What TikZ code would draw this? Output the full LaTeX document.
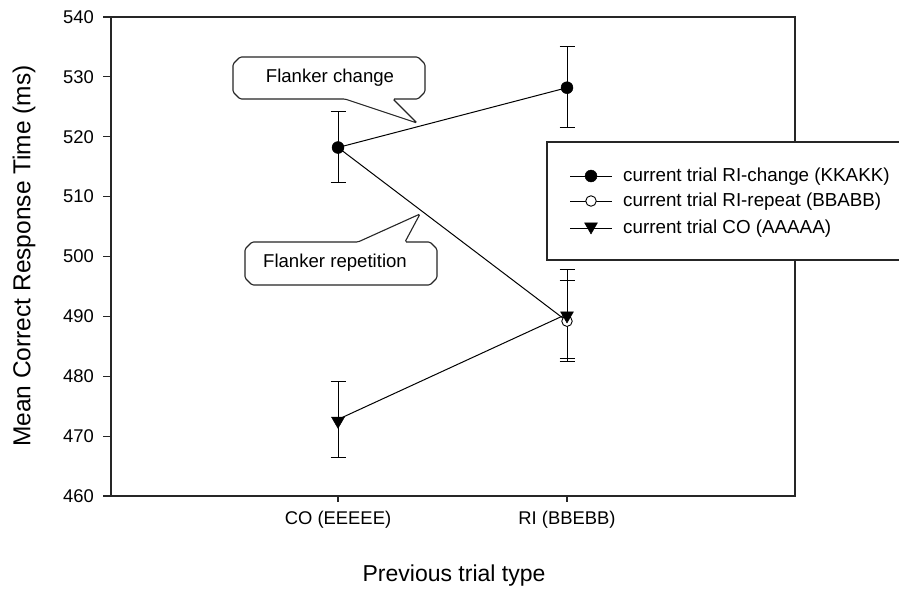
\documentclass[tikz,border=0pt]{standalone}
\usepackage{fontspec}
\setmainfont{Liberation Sans}
\usetikzlibrary{shapes.geometric}
\begin{document}
\begin{tikzpicture}[x=1pt,y=-1pt,
  ax/.style={line width=1.1pt, draw=black!85},
  dl/.style={line width=1pt},
  eb/.style={line width=1pt},
  fcirc/.style={circle, fill=black, draw=black, inner sep=0pt, minimum size=12pt},
  ocirc/.style={circle, fill=white, draw=black, line width=0.9pt, inner sep=0pt, minimum size=10.5pt},
  tmark/.style={regular polygon, regular polygon sides=3, shape border rotate=180, fill=black, draw=black, inner sep=0pt, minimum size=15pt},
  ticklab/.style={font=\fontsize{18.4}{20}\selectfont, inner sep=0pt},
  axlab/.style={font=\fontsize{23}{25}\selectfont, inner sep=0pt},
  legtext/.style={font=\fontsize{18.8}{20}\selectfont, inner sep=0pt, anchor=west},
  calltext/.style={font=\fontsize{18.6}{20}\selectfont, inner sep=0pt},
  callout/.style={line width=1.1pt, draw=black!85, fill=white, rounded corners=1.5pt}]
\useasboundingbox (0,0) rectangle (899,589);
\clip (0,0) rectangle (899,589);
\fill[white] (0,0) rectangle (899,589);

% frame and ticks
\draw[ax] (111,17) rectangle (795,496);
\foreach \v/\y in {460/496,470/436.1,480/376.25,490/316.4,500/256.5,510/196.6,520/136.75,530/76.9,540/17}{
  \draw[ax] (103,\y) -- (111,\y);
  \node[ticklab, anchor=east] (yl\v) at (94,\y) {\v};
}
\draw[ax] (338,496) -- (338,502);
\draw[ax] (567,496) -- (567,502);
\node[ticklab] (xl1) at (338,520) {CO (EEEEE)};
\node[ticklab] (xl2) at (567,520) {RI (BBEBB)};
\node[axlab] (xtitle) at (454,576) {Previous trial type};
\node[axlab, font=\fontsize{24.5}{26}\selectfont, rotate=90] (ytitle) at (24,256) {Mean Correct Response Time (ms)};

% data points
\coordinate (chCO) at (338,147.5);
\coordinate (chRI) at (567,87.7);
\coordinate (rpCO) at (338,147.5);
\coordinate (rpRI) at (567,321.2);
\coordinate (coCO) at (338,419.4);
\coordinate (coRI) at (567,314);

% lines
\draw[dl] (chCO) -- (chRI);
\draw[dl] (rpCO) -- (rpRI);
\draw[dl] (coCO) -- (coRI);

% error bars
\foreach \x/\lo/\hi in {338/111.0/182.9, 567/46.9/127.8, 567/280.5/361.3, 567/269.7/358.3, 338/381.6/457.7}{
  \draw[eb] (\x,\lo) -- (\x,\hi);
  \draw[eb] (\x-7.5,\lo) -- (\x+7.5,\lo);
  \draw[eb] (\x-7.5,\hi) -- (\x+7.5,\hi);
}

% markers
\node[ocirc] (mrpCO) at (rpCO) {};
\node[fcirc] (mchCO) at (chCO) {};
\node[fcirc] (mchRI) at (chRI) {};
\node[ocirc] (mrpRI) at (rpRI) {};
\node[tmark] (mcoCO) at ([yshift=-1.5pt]coCO) {};
\node[tmark] (mcoRI) at ([yshift=-1.5pt]coRI) {};

% callouts
\draw[callout] (240,57) -- (418,57) -- (425,64) -- (425,92) -- (418,99) -- (393,99) -- (417,123) -- (345,99) -- (240,99) -- (233,92) -- (233,64) -- cycle;
\node[calltext] (cchange) at (330,78) {Flanker change};
\draw[callout] (252,242) -- (358,242) -- (420,214) -- (405,242) -- (430,242) -- (437,249) -- (437,278) -- (430,285) -- (252,285) -- (245,278) -- (245,249) -- cycle;
\node[calltext] (crep) at (335,263) {Flanker repetition};

% legend
\draw[ax, fill=white] (547,142) rectangle (920,260);
\coordinate (l1a) at (570,176); \coordinate (l1b) at (612,176);
\coordinate (l2a) at (570,201); \coordinate (l2b) at (612,201);
\coordinate (l3a) at (570,228); \coordinate (l3b) at (612,228);
\draw[dl] (l1a) -- (l1b);
\draw[dl] (l2a) -- (l2b);
\draw[dl] (l3a) -- (l3b);
\node[fcirc] (lm1) at (591,176) {};
\node[ocirc] (lm2) at (591,201) {};
\node[tmark] (lm3) at (591,226.5) {};
\node[legtext] (lt1) at (623,177) {current trial RI-change (KKAKK)};
\node[legtext] (lt2) at (623,202) {current trial RI-repeat (BBABB)};
\node[legtext] (lt3) at (623,229) {current trial CO (AAAAA)};
\end{tikzpicture}
\end{document}
